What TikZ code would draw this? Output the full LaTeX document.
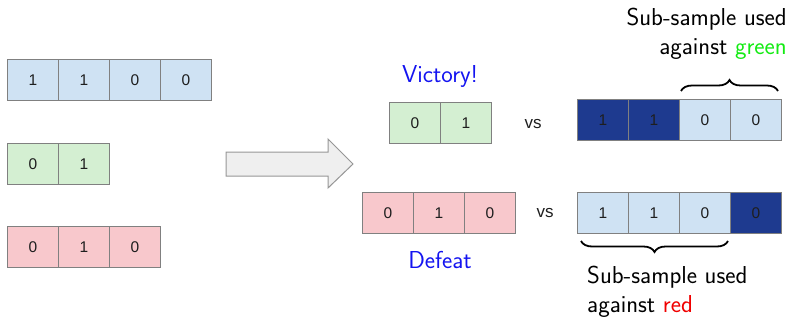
\documentclass[tikz,border=0pt]{standalone}
\usepackage{fontspec}
\usetikzlibrary{decorations.pathreplacing}
\newfontfamily\cellfont{Liberation Sans}

\definecolor{cellblue}{RGB}{207,226,243}
\definecolor{cellgreen}{RGB}{212,239,210}
\definecolor{cellred}{RGB}{248,200,204}
\definecolor{celldark}{RGB}{30,58,143}
\definecolor{cellborder}{RGB}{128,128,128}
\definecolor{digit}{RGB}{30,30,30}
\definecolor{wordblue}{RGB}{20,20,240}
\definecolor{wordgreen}{RGB}{20,235,20}
\definecolor{wordred}{RGB}{240,0,0}
\definecolor{arrowfill}{RGB}{239,239,239}
\definecolor{arrowline}{RGB}{150,150,150}

\begin{document}
\begin{tikzpicture}[x=1pt,y=-1pt,
  cell/.style={draw=cellborder, line width=1pt, minimum width=51pt, minimum height=41pt,
    anchor=north west, inner sep=0pt, text=digit,
    font=\cellfont\fontsize{15.5}{18}\selectfont},
  blue cell/.style={cell, fill=cellblue},
  green cell/.style={cell, fill=cellgreen},
  red cell/.style={cell, fill=cellred},
  dark cell/.style={cell, fill=celldark},
  caption/.style={inner sep=0pt, font=\sffamily\fontsize{24.5}{28.5}\selectfont},
  vslabel/.style={inner sep=0pt, font=\cellfont\fontsize{17}{20}\selectfont, text=digit},
  bracepath/.style={decorate, decoration={brace, amplitude=11pt}, line width=1.8pt}]
\useasboundingbox (0,0) rectangle (791,321);

% left column: the three samples
\foreach \v [count=\i] in {1,1,0,0}
  \node[blue cell] (la\i) at ({7+51*(\i-1)},59) {\v};
\foreach \v [count=\i] in {0,1}
  \node[green cell] (lb\i) at ({7+51*(\i-1)},143) {\v};
\foreach \v [count=\i] in {0,1,0}
  \node[red cell] (lc\i) at ({7+51*(\i-1)},226) {\v};

% big arrow
\draw[fill=arrowfill, draw=arrowline, line width=1pt]
  (226,152) -- (328,152) -- (328,139) -- (353,164) -- (328,188) -- (328,176) -- (226,176) -- cycle;

% contest against green
\node[caption, text=wordblue, anchor=base] (victory) at (440,82) {Victory!};
\foreach \v [count=\i] in {0,1}
  \node[green cell] (mg\i) at ({389+51*(\i-1)},102) {\v};
\node[vslabel] (vs1) at (533,124) {vs};
\node[dark cell] (ra1) at (577,99) {1};
\node[dark cell] (ra2) at (628,99) {1};
\node[blue cell] (ra3) at (679,99) {0};
\node[blue cell] (ra4) at (730,99) {0};

% contest against red
\foreach \v [count=\i] in {0,1,0}
  \node[red cell] (mr\i) at ({362+51*(\i-1)},192) {\v};
\node[vslabel] (vs2) at (545,213) {vs};
\node[caption, text=wordblue, anchor=base] (defeat) at (440,268) {Defeat};
\node[blue cell] (rb1) at (577,192) {1};
\node[blue cell] (rb2) at (628,192) {1};
\node[blue cell] (rb3) at (679,192) {0};
\node[dark cell] (rb4) at (730,192) {0};

% sub-sample braces and their notes
\coordinate (gbl) at (681,91);
\coordinate (gbr) at (778,91);
\draw[bracepath] (gbl) -- (gbr);
\node[caption, anchor=north east, align=right] (gnote) at (787,8)
  {Sub-sample used\\against \textcolor{wordgreen}{green}};

\coordinate (rbr) at (728,241);
\coordinate (rbl) at (581,241);
\draw[bracepath] (rbr) -- (rbl);
\node[caption, anchor=north west, align=left] (rnote) at (587,266)
  {Sub-sample used\\against \textcolor{wordred}{red}};
\end{tikzpicture}
\end{document}
